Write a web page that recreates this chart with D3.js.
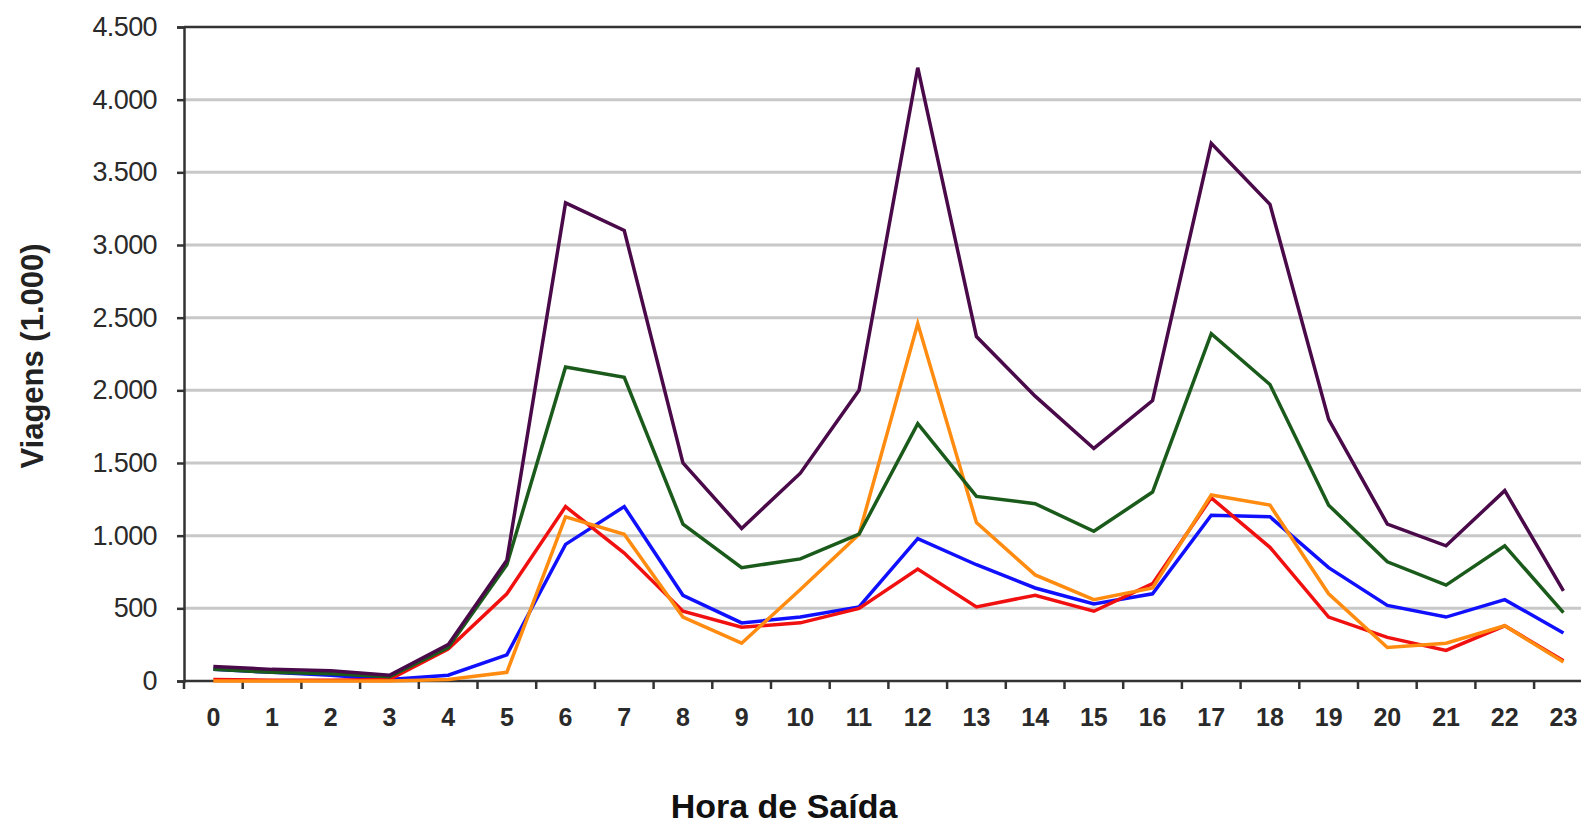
<!DOCTYPE html>
<html><head><meta charset="utf-8">
<script src="https://cdn.jsdelivr.net/npm/d3@7"></script>
<style>body{margin:0;background:#fff}svg{display:block}text{font-family:"Liberation Sans",Arial,sans-serif}</style>
</head><body><svg id="c" width="1581" height="824"></svg>
<script>
const hours = d3.range(0,24).map(String);
const yTicks = [0,500,1000,1500,2000,2500,3000,3500,4000,4500];
const purple = [100,80,70,40,250,830,3290,3100,1500,1050,1430,2000,4220,2370,1960,1600,1930,3700,3280,1800,1080,930,1310,620];
const green  = [80,60,50,30,230,800,2160,2090,1080,780,840,1010,1770,1270,1220,1030,1300,2390,2040,1210,820,660,930,470];
const blue   = [80,60,40,10,40,180,940,1200,590,400,440,510,980,800,640,530,600,1140,1130,780,520,440,560,330];
const red    = [10,5,5,10,220,600,1200,880,480,370,400,500,770,510,590,480,670,1260,920,440,300,210,380,140];
const orange = [0,0,0,0,10,60,1130,1010,440,260,630,1010,2460,1090,730,560,640,1280,1210,600,230,260,380,130];
const seriesNames = ["blue","red","orange","green","purple"];
const seriesValues = [blue,red,orange,green,purple];
const seriesColors = ["#1010ff","#f01010","#ff8c10","#1a5a1a","#4a0a4a"];

const svg = d3.select("#c");
const pLeft=184, pRight=184+24*58.7, pTop=27, pBottom=681;
const x = d3.scaleBand().domain(hours).range([pLeft,pRight]).padding(0);
const y = d3.scaleLinear().domain([0,4500]).range([pBottom,pTop]);
const loc = d3.formatLocale({decimal:",",thousands:".",grouping:[3],currency:["",""]});
const fmt = loc.format(",d");

// gridlines
svg.append("g").selectAll("line").data(yTicks.filter(d=>d>0&&d<4500)).join("line")
  .attr("x1",pLeft).attr("x2",1581).attr("y1",d=>y(d)).attr("y2",d=>y(d))
  .attr("stroke","#c8c8c8").attr("stroke-width",3);

// top border
svg.append("line").attr("x1",pLeft).attr("x2",1581).attr("y1",y(4500)).attr("y2",y(4500))
  .attr("stroke","#333").attr("stroke-width",2.5);

// y axis
const ya = svg.append("g").attr("transform",`translate(${pLeft},0)`)
  .call(d3.axisLeft(y).tickValues(yTicks).tickFormat(fmt).tickSize(7).tickPadding(20));
ya.select(".domain").attr("stroke","#333").attr("stroke-width",2.5);
ya.selectAll(".tick line").attr("stroke","#333").attr("stroke-width",2.5);
ya.selectAll("text").attr("font-size",27).attr("fill","#2a2a2a").attr("letter-spacing","-0.6px");

// x axis
const xa = svg.append("g").attr("transform",`translate(0,${pBottom})`)
  .call(d3.axisBottom(x).tickSize(0).tickPadding(27));
xa.select(".domain").remove();
xa.selectAll("text").attr("font-size",25).attr("fill","#2a2a2a").attr("font-weight","bold");
svg.append("line").attr("x1",pLeft).attr("x2",1581).attr("y1",pBottom).attr("y2",pBottom)
  .attr("stroke","#333").attr("stroke-width",2.5);
svg.append("g").selectAll("line").data(hours).join("line")
  .attr("x1",d=>x(d)).attr("x2",d=>x(d)).attr("y1",pBottom).attr("y2",pBottom+8)
  .attr("stroke","#333").attr("stroke-width",2.5);

// lines
const line = d3.line().x((d,i)=>x(hours[i])+x.bandwidth()/2).y(d=>y(d));
svg.append("g").selectAll("path").data(seriesValues).join("path")
  .attr("d",d=>line(d)).attr("fill","none")
  .attr("stroke",(d,i)=>seriesColors[i]).attr("stroke-width",3.5).attr("stroke-linejoin","miter");

// axis titles
svg.append("text").attr("transform","translate(43,356) rotate(-90)").attr("text-anchor","middle")
  .attr("font-size",31).attr("font-weight","bold").attr("fill","#222").text("Viagens (1.000)");
svg.append("text").attr("x",784).attr("y",818).attr("text-anchor","middle")
  .attr("font-size",34).attr("font-weight","bold").attr("fill","#111").text("Hora de Saída");
</script></body></html>
